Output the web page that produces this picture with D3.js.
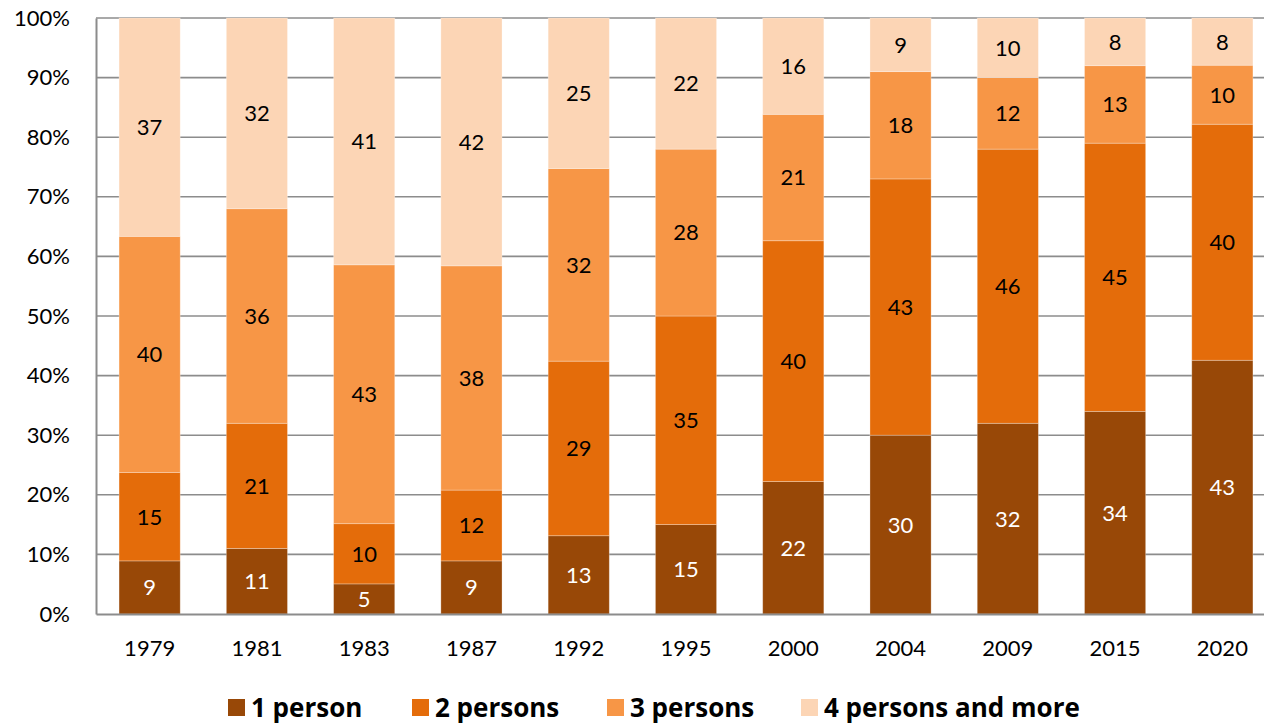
<!DOCTYPE html>
<html>
<head>
<meta charset="utf-8">
<script src="https://cdn.jsdelivr.net/npm/d3@7"></script>
<style>
  body { margin: 0; background: #fff; }
  svg text { font-family: Lato, "Open Sans", sans-serif; }
  .axis path, .axis line { stroke: #8c8c8c; }
</style>
</head>
<body>
<svg id="chart"></svg>
<script>
// data (share of households, %); bars are scaled to 100%
var years = ["1979", "1981", "1983", "1987", "1992", "1995", "2000", "2004", "2009", "2015", "2020"];
var onePerson    = [9, 11, 5, 9, 13, 15, 22, 30, 32, 34, 43];
var twoPersons   = [15, 21, 10, 12, 29, 35, 40, 43, 46, 45, 40];
var threePersons = [40, 36, 43, 38, 32, 28, 21, 18, 12, 13, 10];
var fourPlus     = [37, 32, 41, 42, 25, 22, 16, 9, 10, 8, 8];
var seriesNames = ["1 person", "2 persons", "3 persons", "4 persons and more"];
var yTicks = [0, 0.1, 0.2, 0.3, 0.4, 0.5, 0.6, 0.7, 0.8, 0.9, 1];

var colors = ["#984807", "#e46c0a", "#f79646", "#fcd5b5"];
var labelColors = ["#ffffff", "#000000", "#000000", "#000000"];

var W = 1264, H = 724,
    margin = {top: 18, right: -12, bottom: 110, left: 96},
    width = W - margin.left - margin.right,
    height = H - margin.top - margin.bottom;

var svg = d3.select("#chart").attr("width", W).attr("height", H);
var g = svg.append("g").attr("transform", "translate(" + margin.left + "," + margin.top + ")");

var table = years.map(function(y, i) {
    return {year: y, s0: onePerson[i], s1: twoPersons[i], s2: threePersons[i], s3: fourPlus[i]};
});
var keys = ["s0", "s1", "s2", "s3"];
var stacked = d3.stack().keys(keys).offset(d3.stackOffsetExpand)(table);

var x = d3.scaleBand().domain(years).range([0, width]).paddingInner(0.43).paddingOuter(0.215),
    y = d3.scaleLinear().domain([0, 1]).range([height, 0]);

// gridlines
g.append("g")
    .selectAll("line")
    .data(yTicks.slice(1))
    .enter().append("line")
    .attr("x1", 0).attr("x2", W)
    .attr("y1", function(d) { return y(d); })
    .attr("y2", function(d) { return y(d); })
    .attr("stroke", "#8c8c8c")
    .attr("stroke-width", 1.6);

// bars
var layer = g.selectAll(".layer")
    .data(stacked)
    .enter().append("g")
    .attr("class", "layer")
    .attr("fill", function(d, i) { return colors[i]; });

layer.selectAll("rect")
    .data(function(d) { return d; })
    .enter().append("rect")
    .attr("x", function(d) { return x(d.data.year); })
    .attr("width", x.bandwidth())
    .attr("y", function(d) { return y(d[1]); })
    .attr("height", function(d) { return y(d[0]) - y(d[1]); })
    .attr("stroke", "#ffffff")
    .attr("stroke-opacity", 0.35)
    .attr("stroke-width", 0.8);

// value labels (the raw values)
layer.each(function(s, i) {
    var key = keys[i];
    d3.select(this).selectAll("text")
        .data(s)
        .enter().append("text")
        .attr("x", function(d) { return x(d.data.year) + x.bandwidth() / 2; })
        .attr("y", function(d) { return (y(d[0]) + y(d[1])) / 2; })
        .attr("dy", "0.36em")
        .attr("text-anchor", "middle")
        .attr("font-size", "22px")
        .attr("fill", labelColors[i])
        .text(function(d) { return d.data[key]; });
});

// y axis
var yAxis = g.append("g")
    .attr("class", "axis")
    .call(d3.axisLeft(y).tickValues(yTicks).tickSize(0).tickPadding(26)
        .tickFormat(d3.format(".0%")));
yAxis.select(".domain").attr("stroke-width", 2);
yAxis.selectAll("text").attr("font-size", "22px").attr("fill", "#000");

// x axis
var xAxis = g.append("g")
    .attr("class", "axis")
    .attr("transform", "translate(0," + height + ")")
    .call(d3.axisBottom(x).tickSize(0).tickPadding(26));
xAxis.select(".domain").attr("stroke-width", 2);
xAxis.selectAll("text").attr("font-size", "22px").attr("fill", "#000");

// legend
var legendX = [228, 412, 607, 801];
var legend = svg.append("g").attr("transform", "translate(0,708)");
var item = legend.selectAll(".item")
    .data(seriesNames)
    .enter().append("g")
    .attr("transform", function(d, i) { return "translate(" + legendX[i] + ",0)"; });
item.append("rect")
    .attr("x", 0).attr("y", -9)
    .attr("width", 17).attr("height", 17)
    .attr("fill", function(d, i) { return colors[i]; });
item.append("text")
    .attr("x", 23)
    .attr("dy", "0.36em")
    .attr("font-size", "26px")
    .attr("font-weight", "bold")
    .style("font-family", "'Open Sans', sans-serif")
    .attr("fill", "#000")
    .text(function(d) { return d; });
</script>
</body>
</html>
